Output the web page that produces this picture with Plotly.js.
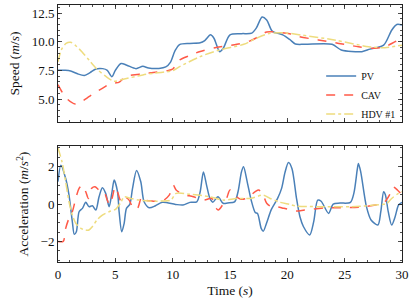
<!DOCTYPE html>
<html>
<head>
<meta charset="utf-8">
<script src="https://cdn.plot.ly/plotly-3.0.1.min.js"></script>
<style>html,body{margin:0;padding:0;background:#fff;}#chart{width:416px;height:307px;}</style>
</head>
<body>
<div id="chart"></div>
<script>
// ---- Data ----
const seriesNames = ["PV", "CAV", "HDV #1"];

const pvSpeedT = [0,0.6,1.1,1.7,2.3,2.8,3.3,3.9,4.3,4.7,5.0,5.5,6.0,6.8,7.4,7.9,8.8,9.4,9.8,10.2,10.6,11.5,12.4,12.8,13.3,13.6,14.1,14.4,15.0,16.0,16.9,17.3,17.8,18.2,18.7,19.6,20.2,20.7,21.5,23.9,24.7,26.5,27.2,28.4,29.1,29.55,30];
const pvSpeed  = [7.5,7.5,7.45,7.2,7.05,7.3,7.62,7.65,7.5,6.95,7.5,8.1,7.95,7.65,7.85,7.7,7.67,7.8,8.2,9.2,9.75,9.85,9.9,10.1,10.6,10.3,9.13,9.4,10.6,10.7,10.75,11.2,12.15,11.9,10.9,10.6,10.2,9.8,9.77,9.77,9.28,9.13,9.35,9.7,11.0,11.5,11.45];

const cavSpeedT = [0,0.3,0.8,1.5,2.0,2.7,3.3,3.9,4.5,5.0,5.3,5.9,6.5,7.4,8.5,9.5,10.0,10.6,11.5,12.4,13.8,15.6,16.7,17.5,18.2,19.4,20.2,21.0,22.7,24.5,26.2,27.4,28.5,29.4,30];
const cavSpeed  = [6.25,5.7,5.0,4.57,4.75,5.2,5.6,5.95,6.3,6.4,6.45,6.95,7.1,7.2,7.33,7.47,7.6,8.4,8.8,9.15,9.5,9.77,10.05,10.44,10.85,10.8,10.7,10.45,10.15,9.85,9.56,9.42,9.55,10.0,10.25];

const hdvSpeedT = [0,0.3,0.7,1.1,1.6,2.1,2.7,3.3,4.2,4.9,5.6,7.4,8.5,10.0,10.6,12.4,14.1,16.2,17.3,18.5,19.8,21.2,24.1,27.1,28.5,30];
const hdvSpeed  = [8.25,9.3,9.85,9.95,9.6,9.1,8.4,7.7,6.95,6.55,6.7,7.1,7.27,7.47,7.82,8.7,9.28,9.77,10.3,10.73,10.77,10.58,10.15,9.56,9.48,9.7];

const pvAccT = [0,0.25,0.67,0.96,1.25,1.42,1.6,1.84,2.13,2.42,2.7,3.0,3.3,3.58,3.87,4.16,4.46,4.69,4.9,5.19,5.33,5.56,5.77,5.97,6.26,6.5,6.85,7.22,7.51,7.95,8.5,9.1,10.25,10.9,11.5,12.1,12.4,12.68,12.96,13.25,13.5,13.95,14.4,14.8,15.4,15.7,16.0,16.18,16.5,16.85,17.2,17.4,17.72,17.9,18.2,18.6,19.15,19.5,19.8,20.1,20.4,20.8,21.1,21.4,21.95,22.3,22.65,22.95,23.6,24.0,24.6,25.5,25.8,26.1,26.2,26.4,26.9,27.3,27.9,28.15,28.4,28.55,28.8,29.1,29.4,29.7,30];
const pvAcc  = [1.2,2.08,1.37,0.48,-0.94,-1.62,-1.48,-0.41,-0.23,0.09,-0.14,-0.09,-0.32,0.39,0.87,0.57,-0.14,0.57,1.28,0.66,-0.41,-1.48,-1.03,-0.23,-0.02,0.84,1.8,1.19,0.12,-0.2,-0.09,0.09,-0.02,-0.05,0.09,0.12,0.66,1.72,1.0,0.3,0.1,0.39,0.04,0.06,0.12,0.66,1.72,1.99,1.19,0.2,-0.45,-0.5,-1.3,-1.45,-1.0,-0.3,0.3,0.84,1.7,2.22,1.9,0.3,-0.68,-1.2,-1.65,-0.94,0.21,0.15,-0.5,0.0,0.05,0.09,0.57,1.85,2.17,1.72,-0.14,-0.85,-1.12,-0.41,0.66,0.5,-0.41,-1.12,-0.68,-0.05,0.09];

const cavAccT = [0,0.45,0.67,0.96,1.25,1.55,1.84,2.13,2.42,2.65,2.94,3.23,3.58,4.0,4.3,4.5,4.75,4.98,5.19,5.48,5.77,6.2,6.56,6.93,7.3,7.65,8.2,9.1,9.7,10.05,10.3,10.9,11.8,12.7,13.4,13.8,13.98,14.35,14.7,15.0,15.4,15.9,16.4,17.2,17.5,17.9,18.2,18.6,19.1,19.7,20.4,20.8,21.5,23.3,25.0,26.8,27.9,28.5,28.9,29.2,29.6,30];
const cavAcc  = [-2.0,-2.0,-1.3,-0.76,-0.41,0.3,0.84,1.01,0.66,0.3,0.84,0.92,0.75,0.66,0.21,-0.05,0.39,0.92,0.66,0.16,0.39,0.21,-0.23,-0.23,0.39,0.21,0.16,0.16,0.48,1.01,0.75,0.52,0.39,0.21,0.3,-0.23,-0.32,-0.05,0.3,0.75,0.48,0.27,0.3,0.66,0.75,0.48,0.04,-0.14,-0.14,-0.23,-0.32,-0.37,-0.32,-0.2,-0.2,-0.14,-0.02,0.12,0.48,0.92,0.75,0.48];

const hdvAccT = [0,0.35,0.67,0.96,1.25,1.55,2.0,2.42,2.7,3.0,3.4,3.87,4.46,5.04,5.48,5.77,6.35,7.1,7.95,9.1,9.85,10.3,11.5,13.25,14.4,15.6,16.8,17.9,18.5,19.4,20.2,20.7,22.7,25.6,28.3,28.7,29.1,29.7,30];
const hdvAcc  = [3.0,2.26,1.19,0.12,-0.59,-1.03,-1.3,-1.39,-1.39,-1.21,-0.85,-0.59,-0.41,-0.27,0.09,0.39,0.3,0.21,0.16,0.16,0.21,0.57,0.52,0.39,0.21,0.3,0.3,0.48,0.3,0.09,-0.02,-0.1,-0.14,-0.14,-0.02,0.04,0.3,0.57,0.66];

const xTicks = [0,5,10,15,20,25,30];
const speedTicks = [5.0,7.5,10.0,12.5];
const speedTickText = ["5.0","7.5","10.0","12.5"];
const accTicks = [-2,0,2];

// ---- Styles ----
const colors = ["#4a80b8", "#ff5a48", "#eedc7e"];
const dashes = ["solid", "dash", "dashdot"];
const FONT = "Liberation Serif, Times New Roman, serif";

function tr(x, y, i, xa, ya, show) {
  return {
    x: x, y: y, type: "scatter", mode: "lines",
    name: seriesNames[i], showlegend: show,
    xaxis: xa, yaxis: ya,
    line: {color: colors[i], width: 1.5, dash: dashes[i], shape: "spline", smoothing: 0.8},
    hoverinfo: "skip"
  };
}

const data = [
  tr(pvSpeedT, pvSpeed, 0, "x2", "y2", true),
  tr(cavSpeedT, cavSpeed, 1, "x2", "y2", true),
  tr(hdvSpeedT, hdvSpeed, 2, "x2", "y2", true),
  tr(pvAccT, pvAcc, 0, "x", "y", false),
  tr(cavAccT, cavAcc, 1, "x", "y", false),
  tr(hdvAccT, hdvAcc, 2, "x", "y", false)
];

const axBase = {
  showgrid: false, zeroline: false,
  showline: true, linecolor: "#222", linewidth: 1, mirror: "allticks",
  ticks: "inside", ticklen: 4, tickwidth: 0.8, tickcolor: "#222",
  tickfont: {family: FONT, size: 13, color: "#111"}
};

const layout = {
  width: 416, height: 307,
  margin: {l: 58, r: 14, t: 5, b: 45},
  paper_bgcolor: "#fff", plot_bgcolor: "#fff",
  font: {family: FONT, size: 13, color: "#111"},
  showlegend: true,
  legend: {x: 0.765, xanchor: "left", y: 0.65, yanchor: "middle",
           bgcolor: "rgba(0,0,0,0)", borderwidth: 0,
           font: {family: FONT, size: 10, color: "#111"}},
  xaxis: Object.assign({}, axBase, {
    domain: [0, 1], anchor: "y", range: [0, 30],
    tickvals: xTicks, ticktext: xTicks.map(String),
    minor: {dtick: 1, tick0: 0, ticks: "inside", ticklen: 2, tickcolor: "#222"},
    title: {text: "Time (<i>s</i>)", font: {family: FONT, size: 13.5}, standoff: 4}
  }),
  xaxis2: Object.assign({}, axBase, {
    domain: [0, 1], anchor: "y2", range: [0, 30], matches: "x",
    tickvals: xTicks, showticklabels: false,
    minor: {dtick: 1, tick0: 0, ticks: "inside", ticklen: 2, tickcolor: "#222"}
  }),
  yaxis: Object.assign({}, axBase, {
    domain: [0, 0.451], anchor: "x", range: [-3.1, 3.1],
    tickvals: accTicks,
    minor: {dtick: 0.5, tick0: 0, ticks: "inside", ticklen: 2, tickcolor: "#222"},
    title: {text: "Acceleration (<i>m</i>/<i>s</i><sup>2</sup>)", font: {family: FONT, size: 13.5}, standoff: 8}
  }),
  yaxis2: Object.assign({}, axBase, {
    domain: [0.545, 1], anchor: "x2", range: [3.0, 13.2],
    tickvals: speedTicks, ticktext: speedTickText,
    minor: {dtick: 0.5, tick0: 0, ticks: "inside", ticklen: 2, tickcolor: "#222"},
    title: {text: "Speed (<i>m</i>/<i>s</i>)", font: {family: FONT, size: 13.5}, standoff: 8}
  })
};

Plotly.newPlot("chart", data, layout, {staticPlot: true, displayModeBar: false});
</script>
</body>
</html>
